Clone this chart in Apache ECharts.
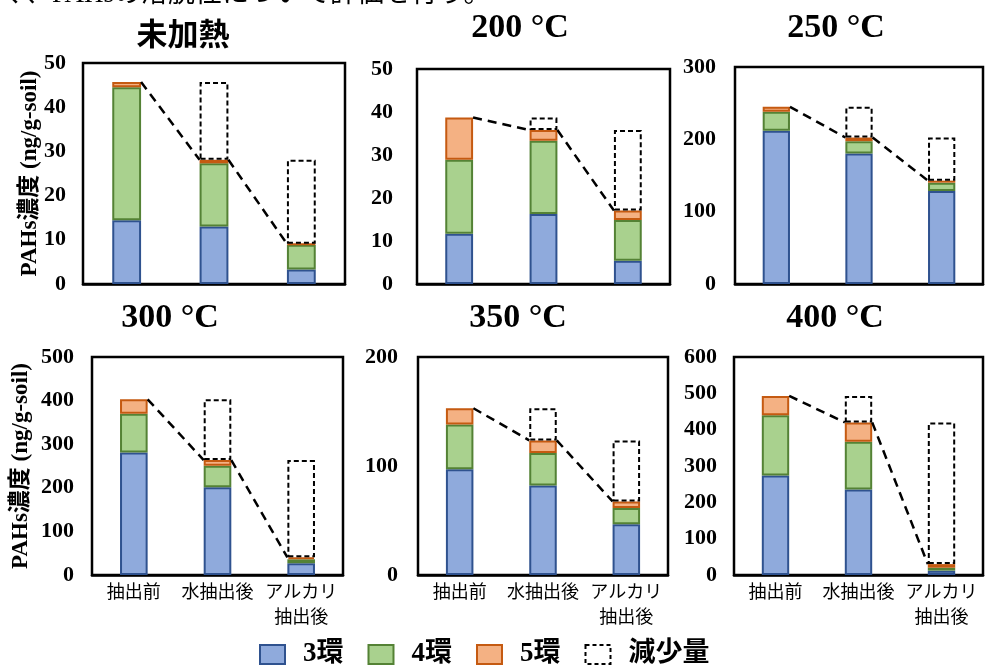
<!DOCTYPE html>
<html>
<head>
<meta charset="utf-8">
<script src="https://cdn.jsdelivr.net/npm/echarts@6/dist/echarts.min.js"></script>
<style>
  html, body { margin: 0; padding: 0; background: #fff; }
  #chart { width: 985px; height: 672px; }
</style>
</head>
<body>
<div id="chart"></div>
<script>
// categories and panel titles
const categories = ['抽出前', '水抽出後', 'アルカリ\n抽出後'];
const titles = ['未加熱', '200 °C', '250 °C', '300 °C', '350 °C', '400 °C'];

// values per panel (ng/g-soil)
const ring3 = [[14.4, 13.0, 3.3], [11.7, 16.3, 5.4], [212, 180.5, 128.6], [281, 201, 27], [97, 82, 46.5], [274, 235, 12]];
const ring4 = [[30.1, 14.3, 5.6], [17.2, 17.0, 9.5], [26, 17, 11.5], [89, 49.5, 9], [41, 30, 15], [166, 132, 8]];
const ring5 = [[1.2, 0.8, 0.2], [9.8, 2.5, 2.2], [7, 5, 2.8], [33, 13, 4.5], [15, 11.5, 6], [53, 53, 10]];
const decrease = [[0, 17.6, 19.0], [0, 2.9, 18.7], [0, 42.5, 59.6], [0, 139.5, 223], [0, 29.5, 56], [0, 73, 390]];

// axis ranges
const yMax = [50, 50, 300, 500, 200, 600];
const yStep = [10, 10, 100, 100, 100, 100];

const serifJp = "'Liberation Serif', 'Noto Sans CJK JP'";
const gothic = "'Noto Sans CJK JP'";

const grids = [
    { left: 83, top: 63, width: 262, height: 221 },
    { left: 417, top: 69, width: 253, height: 215 },
    { left: 735, top: 67, width: 248, height: 217 },
    { left: 92, top: 357, width: 251, height: 218 },
    { left: 418, top: 357, width: 250, height: 218 },
    { left: 734, top: 357, width: 249, height: 218 }
];
const labelMargin = [17, 24, 19, 18, 20, 17];
const titlePos = [[183, 18], [520, 11], [836, 11], [170, 301], [518, 301], [835, 301]];

const BAR_RATIO = 0.33;

let chart = echarts.init(document.getElementById('chart'), null, { renderer: 'canvas' });

let xAxes = [], yAxes = [], series = [], titleList = [];

grids.forEach(function (g, i) {
    g.show = true;
    g.borderColor = '#000';
    g.borderWidth = 2.5;
    g.containLabel = false;

    const bottomRow = i >= 3;
    xAxes.push({
        type: 'category',
        gridIndex: i,
        data: categories,
        axisLine: { show: true, lineStyle: { color: '#000', width: 2.5 } },
        axisTick: { show: false },
        axisLabel: {
            show: bottomRow,
            color: '#000',
            fontFamily: gothic,
            fontSize: 18,
            lineHeight: 25,
            margin: 4,
            interval: 0
        }
    });

    const yAxis = {
        type: 'value',
        gridIndex: i,
        min: 0,
        max: yMax[i],
        interval: yStep[i],
        splitLine: { show: false },
        axisLine: { show: false },
        axisTick: { show: false },
        axisLabel: {
            color: '#000',
            fontFamily: 'Liberation Serif',
            fontWeight: 'bold',
            fontSize: 22,
            margin: labelMargin[i]
        }
    };
    if (i === 0 || i === 3) {
        yAxis.name = 'PAHs濃度 (ng/g-soil)';
        yAxis.nameLocation = 'middle';
        yAxis.nameMoveOverlap = false;
        yAxis.nameGap = i === 0 ? 41 : 59;
        yAxis.nameTextStyle = { color: '#000', fontFamily: serifJp, fontWeight: 'bold', fontSize: 23 };
    }
    yAxes.push(yAxis);

    titleList.push({
        text: titles[i],
        left: titlePos[i][0],
        top: titlePos[i][1],
        textAlign: 'center',
        padding: 0,
        textStyle: {
            color: '#000',
            fontFamily: i === 0 ? gothic : 'Liberation Serif',
            fontWeight: 'bold',
            fontSize: i === 0 ? 31 : 34
        }
    });

    const stack = 'stack' + i;
    const common = { type: 'bar', xAxisIndex: i, yAxisIndex: i, stack: stack, barWidth: (BAR_RATIO * 100) + '%' };
    series.push(Object.assign({}, common, {
        name: '3環', data: ring3[i],
        itemStyle: { color: '#8faadc', borderColor: '#2f528f', borderWidth: 2 }
    }));
    series.push(Object.assign({}, common, {
        name: '4環', data: ring4[i],
        itemStyle: { color: '#a9d18e', borderColor: '#548235', borderWidth: 2 }
    }));
    series.push(Object.assign({}, common, {
        name: '5環', data: ring5[i],
        itemStyle: { color: '#f4b183', borderColor: '#c55a11', borderWidth: 2 }
    }));
    series.push(Object.assign({}, common, {
        name: '減少量', data: decrease[i].map(function (v) { return v === 0 ? '-' : v; }),
        itemStyle: { color: 'rgba(0,0,0,0)', borderColor: '#000', borderWidth: 2, borderType: [5, 3] }
    }));

    // series lines: top of each stack to the next
    let totals = ring3[i].map(function (v, k) { return v + ring4[i][k] + ring5[i][k]; });
    let lineData = [];
    for (let k = 0; k < totals.length - 1; k++) {
        lineData.push([k, totals[k], totals[k + 1]]);
    }
    series.push({
        type: 'custom',
        name: 'line' + i,
        xAxisIndex: i,
        yAxisIndex: i,
        z: 5,
        data: lineData,
        encode: { x: 0, y: [1, 2] },
        renderItem: function (params, api) {
            const k = api.value(0);
            const p0 = api.coord([k, api.value(1)]);
            const p1 = api.coord([k + 1, api.value(2)]);
            const hw = api.size([1, 0])[0] * BAR_RATIO / 2;
            return {
                type: 'line',
                shape: { x1: p0[0] + hw, y1: p0[1], x2: p1[0] - hw, y2: p1[1] },
                style: { stroke: '#000', lineWidth: 2.5, lineDash: [9, 6] }
            };
        }
    });
});

const option = {
    animation: false,
    title: titleList,
    grid: grids,
    xAxis: xAxes,
    yAxis: yAxes,
    legend: {
        data: [
            '3環', '4環', '5環',
            { name: '減少量', itemStyle: { color: 'rgba(0,0,0,0)', borderColor: '#000', borderWidth: 2, borderType: [4, 3] } }
        ],
        left: 254,
        top: 636,
        itemWidth: 25,
        itemHeight: 19,
        itemGap: 24,
        icon: 'rect',
        selectedMode: false,
        textStyle: {
            color: '#000',
            fontFamily: serifJp,
            fontWeight: 'bold',
            fontSize: 27,
            padding: [0, 0, 0, 13]
        }
    },
    graphic: [{
        type: 'text',
        left: -2,
        top: -19,
        style: {
            text: 'く、PAHsの溶脱性について評価を行う。',
            fill: '#000',
            font: "27px 'Liberation Serif', 'Noto Sans CJK JP'"
        }
    }],
    series: series
};

chart.setOption(option);
</script>
</body>
</html>
